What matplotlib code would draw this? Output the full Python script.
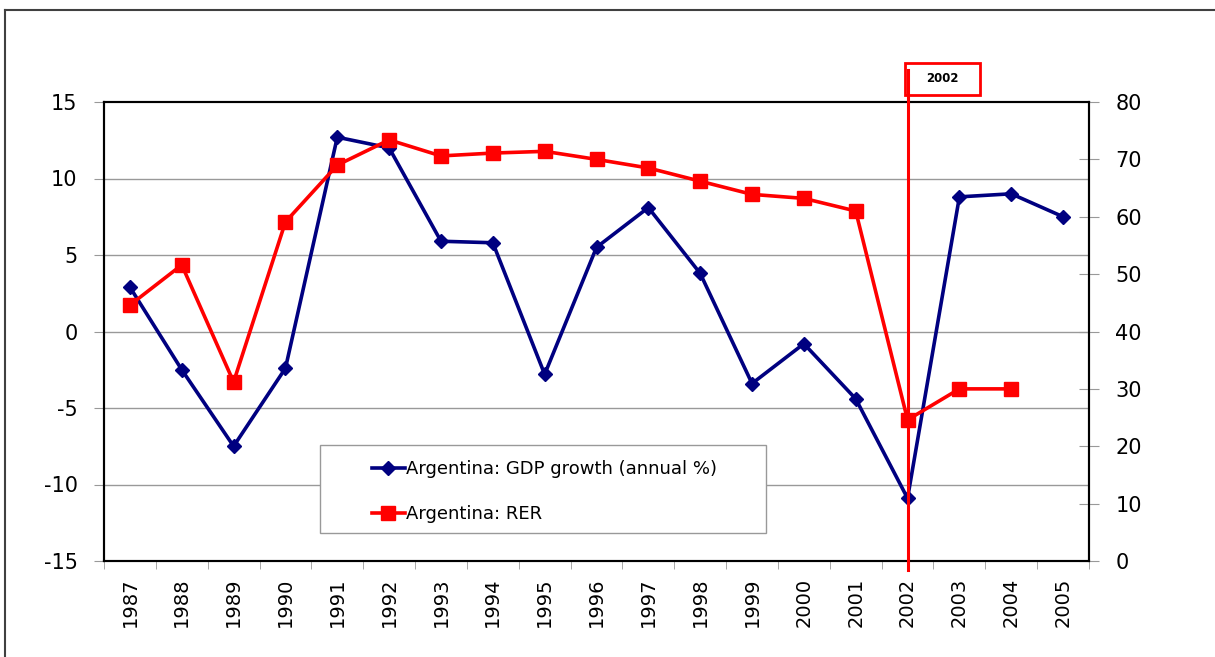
import matplotlib
matplotlib.use("Agg")
import matplotlib.pyplot as plt
from matplotlib.lines import Line2D
from matplotlib.patches import Rectangle
import matplotlib.transforms as mtransforms

plt.rcParams["axes.unicode_minus"] = False

years = [str(y) for y in range(1987, 2006)]
gdp_growth = [2.9, -2.5, -7.5, -2.4, 12.7, 12.0, 5.9, 5.8, -2.8, 5.5,
              8.1, 3.8, -3.4, -0.8, -4.4, -10.9, 8.8, 9.0, 7.5]
rer = [44.6, 51.6, 31.2, 59.1, 69.0, 73.4, 70.6, 71.1, 71.4, 70.0,
       68.5, 66.2, 63.9, 63.2, 61.0, 24.6, 30.0, 30.0, None]
left_ticks = [-15, -10, -5, 0, 5, 10, 15]
right_ticks = [0, 10, 20, 30, 40, 50, 60, 70, 80]
marked_year = "2002"

W, H = 1215, 657
fig = plt.figure(figsize=(W / 100, H / 100), dpi=100)
ax = fig.add_axes([104 / W, 1 - 561 / H, 985 / W, 459 / H])
ax2 = ax.twinx()

x = list(range(len(years)))
ax.plot(x, gdp_growth, color="#000080", lw=2.6, marker="D", ms=7,
        label="Argentina: GDP growth (annual %)", zorder=3)
rx = [i for i, v in zip(x, rer) if v is not None]
rv = [v for v in rer if v is not None]
ax2.plot(rx, rv, color="#ff0000", lw=2.6, marker="s", ms=9.5,
         label="Argentina: RER", zorder=3)

ax.set_xlim(-0.5, len(years) - 0.5)
ax.set_ylim(-15, 15)
ax2.set_ylim(0, 80)
ax.set_yticks(left_ticks)
ax2.set_yticks(right_ticks)
ax.set_xticks(x)
ax.set_xticklabels(years, rotation=90, fontsize=14)
ax.set_xticks([i - 0.5 for i in range(len(years) + 1)], minor=True)
ax.tick_params(axis="x", which="major", length=0, pad=12)
ax.tick_params(axis="x", which="minor", length=6, color="#999999", direction="out")
ax.tick_params(axis="y", length=7, color="#999999", direction="out", labelsize=15, pad=12)
ax2.tick_params(axis="y", length=14, color="#999999", direction="inout", labelsize=15, pad=12)

for t in [-10, -5, 0, 5, 10]:
    ax.axhline(t, color="#999999", lw=1, zorder=1)

for a in (ax, ax2):
    for s in a.spines.values():
        s.set_color("black")
        s.set_linewidth(1.5)

# vertical marker for 2002
idx = years.index(marked_year)
trans = mtransforms.blended_transform_factory(ax.transData, ax.transAxes)
ax2.add_line(Line2D([idx, idx], [-0.02, 1.07], transform=trans, color="#ff0000",
                    lw=2.2, clip_on=False, zorder=5))
fig.patches.append(Rectangle((905 / W, 1 - 95 / H), 75 / W, 32 / H, transform=fig.transFigure,
                             fill=False, edgecolor="#ff0000", lw=2))
fig.text(942 / W, 1 - 79 / H, marked_year, fontsize=8.5, fontweight="bold",
         ha="center", va="center")

# legend: frame drawn separately so the entries can sit inset like the original
ax2.add_patch(Rectangle((216 / 985, 28 / 459), 446 / 985, 88 / 459, transform=ax2.transAxes,
                        facecolor="white", edgecolor="#999999", lw=1, zorder=8))
h1, l1 = ax.get_legend_handles_labels()
h2, l2 = ax2.get_legend_handles_labels()
leg = ax2.legend(h1 + h2, l1 + l2, loc="upper left",
                 bbox_to_anchor=(268 / 985, 101 / 459),
                 fontsize=13, frameon=False,
                 handlelength=1.8, handletextpad=0.1, labelspacing=1.5,
                 borderpad=0, borderaxespad=0)
leg.set_zorder(10)

# outer frame
fig.add_artist(Line2D([5 / W, 5 / W], [0, 1 - 10 / H], color="#404040", lw=1.5))
fig.add_artist(Line2D([5 / W, 1], [1 - 10 / H, 1 - 10 / H], color="#404040", lw=1.5))

fig.savefig("out.png", dpi=100)
